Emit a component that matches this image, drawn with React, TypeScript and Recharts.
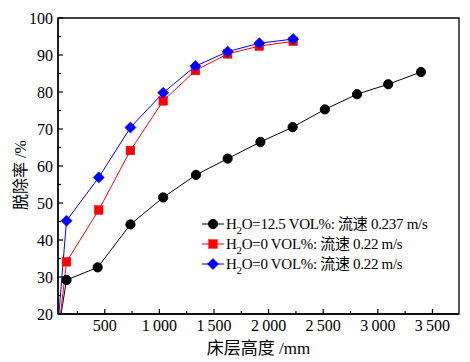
import React from 'react';
import { LineChart, Line, XAxis, YAxis, ReferenceArea, Legend } from 'recharts';

const xBlack = [100, 150, 435, 735, 1035, 1335, 1625, 1925, 2220, 2515, 2810, 3095, 3395];
const yBlack = [20, 29.2, 32.6, 44.2, 51.5, 57.6, 62.0, 66.5, 70.5, 75.3, 79.4, 82.1, 85.4];
const xRed = [95, 150, 445, 735, 1035, 1330, 1625, 1915, 2225];
const yRed = [20, 34.1, 48.1, 64.2, 77.6, 85.8, 90.3, 92.4, 93.7];
const xBlue = [80, 150, 445, 735, 1035, 1330, 1625, 1915, 2225];
const yBlue = [20, 45.2, 56.9, 70.4, 79.8, 87.0, 90.9, 93.2, 94.3];

const xTicks = [250, 500, 750, 1000, 1250, 1500, 1750, 2000, 2250, 2500, 2750, 3000, 3250, 3500];
const yTicks = [20, 25, 30, 35, 40, 45, 50, 55, 60, 65, 70, 75, 80, 85, 90, 95, 100];

const seriesNames = [
  { pre: 'H', sub: '2', post: 'O=12.5 VOL%: 流速 0.237 m/s', color: '#000000', shape: 'circle' },
  { pre: 'H', sub: '2', post: 'O=0 VOL%: 流速 0.22 m/s', color: '#ff0000', shape: 'square' },
  { pre: 'H', sub: '2', post: 'O=0 VOL%: 流速 0.22 m/s', color: '#0000ff', shape: 'diamond' },
];

const toData = (xs: number[], ys: number[]) => xs.map((x, i) => ({ x, y: ys[i] }));
const blackData = toData(xBlack, yBlack);
const redData = toData(xRed, yRed);
const blueData = toData(xBlue, yBlue);

const FONT = '"Liberation Serif", "Times New Roman", "Noto Sans CJK SC", serif';

const fmtX = (v: number) =>
  v >= 1000 ? `${Math.floor(v / 1000)}\u2009${String(v % 1000).padStart(3, '0')}` : String(v);

const XTick = (props: any) => {
  const { x, y, payload } = props;
  const v = payload.value as number;
  const major = v % 500 === 0;
  return (
    <g>
      <line x1={x} x2={x} y1={y} y2={y - (major ? 5 : 3)} stroke="#000" strokeWidth={1.2} />
      {major && (
        <text x={x} y={y + 17} textAnchor="middle" fontSize={16} fontFamily={FONT} fill="#000">
          {fmtX(v)}
        </text>
      )}
    </g>
  );
};

const YTick = (props: any) => {
  const { x, y, payload } = props;
  const v = payload.value as number;
  const major = v % 10 === 0;
  return (
    <g>
      <line x1={x} x2={x + (major ? 5 : 3)} y1={y} y2={y} stroke="#000" strokeWidth={1.2} />
      {major && (
        <text x={x - 5} y={y + 5.5} textAnchor="end" fontSize={16} fontFamily={FONT} fill="#000">
          {v}
        </text>
      )}
    </g>
  );
};

const XLabel = (props: any) => {
  const vb = props.viewBox || { x: 50, y: 306, width: 401, height: 40 };
  return (
    <text x={vb.x + vb.width / 2} y={vb.y + 40} textAnchor="middle" fontSize={17} fontFamily={FONT} fill="#000">
      床层高度 /mm
    </text>
  );
};

const YLabel = (props: any) => {
  const vb = props.viewBox || { x: 10, y: 10, width: 40, height: 296 };
  const cx = 18;
  const cy = vb.y + vb.height / 2 + 9;
  return (
    <text
      x={cx}
      y={cy}
      transform={`rotate(-90 ${cx} ${cy})`}
      textAnchor="middle"
      fontSize={16}
      fontFamily={FONT}
      fill="#000"
    >
      脱除率 /%
    </text>
  );
};

const Marker = ({ shape, color, cx, cy }: { shape: string; color: string; cx: number; cy: number }) => {
  if (shape === 'circle') return <circle cx={cx} cy={cy} r={4.6} fill={color} stroke={color} />;
  if (shape === 'square')
    return <rect x={cx - 4.3} y={cy - 4.3} width={8.6} height={8.6} fill={color} stroke={color} strokeWidth={0.5} />;
  return (
    <polygon
      points={`${cx},${cy - 5.6} ${cx + 5.6},${cy} ${cx},${cy + 5.6} ${cx - 5.6},${cy}`}
      fill={color}
      stroke={color}
      strokeWidth={0.5}
    />
  );
};

const makeDot = (shape: string, color: string) => (props: any) => {
  const { cx, cy, index } = props;
  if (index === 0 || cx == null || cy == null) return <g key={`d${index}`} />;
  return (
    <g key={`d${index}`}>
      <Marker shape={shape} color={color} cx={cx} cy={cy} />
    </g>
  );
};

const LegendContent = () => (
  <div style={{ fontFamily: FONT, fontSize: 15, color: '#000', lineHeight: '20px' }}>
    {seriesNames.map((s, i) => (
      <div key={i} style={{ display: 'flex', alignItems: 'center', height: 20, whiteSpace: 'nowrap' }}>
        <svg width={22} height={14} style={{ marginRight: 2 }}>
          <line x1={0} x2={22} y1={7} y2={7} stroke={s.color} strokeWidth={1} />
          <Marker shape={s.shape} color={s.color} cx={11} cy={7} />
        </svg>
        <span style={{ letterSpacing: '-0.3px' }}>
          {s.pre}
          <span style={{ fontSize: 11, position: 'relative', top: 5 }}>{s.sub}</span>
          {s.post}
        </span>
      </div>
    ))}
  </div>
);

export default function App() {
  return (
    <LineChart width={462} height={354} margin={{ top: 10, right: 11, left: 10, bottom: 8 }}>
      <XAxis
        type="number"
        dataKey="x"
        domain={[72, 3743]}
        ticks={xTicks}
        interval={0}
        allowDataOverflow
        tickSize={0}
        tickMargin={0}
        tickLine={false}
        tick={<XTick />}
        axisLine={{ stroke: '#000', strokeWidth: 1.3 }}
        height={40}
        label={<XLabel />}
      />
      <YAxis
        type="number"
        dataKey="y"
        domain={[20, 100]}
        ticks={yTicks}
        interval={0}
        allowDataOverflow
        tickSize={0}
        tickMargin={0}
        tickLine={false}
        tick={<YTick />}
        axisLine={{ stroke: '#000', strokeWidth: 1.3 }}
        width={40}
        label={<YLabel />}
      />
      <ReferenceArea x1={72} x2={3743} y1={20} y2={100} fill="none" stroke="#000" strokeWidth={1.3} />
      <Line
        data={blackData}
        dataKey="y"
        stroke="#000000"
        strokeWidth={1}
        dot={makeDot('circle', '#000000')}
        isAnimationActive={false}
        name="black"
      />
      <Line
        data={redData}
        dataKey="y"
        stroke="#ff0000"
        strokeWidth={1}
        dot={makeDot('square', '#ff0000')}
        isAnimationActive={false}
        name="red"
      />
      <Line
        data={blueData}
        dataKey="y"
        stroke="#0000ff"
        strokeWidth={1}
        dot={makeDot('diamond', '#0000ff')}
        isAnimationActive={false}
        name="blue"
      />
      <Legend
        layout="horizontal"
        verticalAlign="middle"
        align="center"
        content={<LegendContent />}
        wrapperStyle={{ position: 'absolute', left: 194, top: 206, width: 'auto' }}
      />
    </LineChart>
  );
}
